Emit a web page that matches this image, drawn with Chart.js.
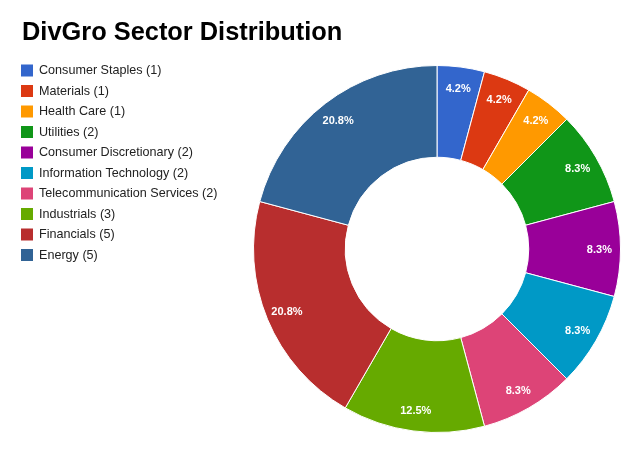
<!DOCTYPE html>
<html>
<head>
<meta charset="utf-8">
<script src="https://cdn.jsdelivr.net/npm/chart.js@4"></script>
<style>
  body { margin: 0; background: #fff; }
  canvas { display: block; }
</style>
</head>
<body>
<canvas id="sectorChart" width="640" height="451"></canvas>
<script>
var chartTitle = 'DivGro Sector Distribution';
var sectors = ['Consumer Staples', 'Materials', 'Health Care', 'Utilities', 'Consumer Discretionary',
    'Information Technology', 'Telecommunication Services', 'Industrials', 'Financials', 'Energy'];
var holdings = [1, 1, 1, 2, 2, 2, 2, 3, 5, 5];
var sectorColors = ['#3366cc', '#dc3912', '#ff9900', '#109618', '#990099',
    '#0099c6', '#dd4477', '#66aa00', '#b82e2e', '#316395'];

var total = holdings.reduce(function(a, b) { return a + b; }, 0);

// title + legend drawn on the canvas, left side
var sideLegend = {
    id: 'sideLegend',
    afterDraw: function(chart) {
        var ctx = chart.ctx;
        ctx.save();
        ctx.fillStyle = '#000';
        ctx.font = 'bold 25.4px "Liberation Sans", Arial, sans-serif';
        ctx.textBaseline = 'alphabetic';
        ctx.textAlign = 'left';
        ctx.fillText(chartTitle, 22, 40);

        ctx.font = '12.6px "Liberation Sans", Arial, sans-serif';
        ctx.textBaseline = 'middle';
        sectors.forEach(function(name, i) {
            var y = 70.5 + i * 20.5;
            ctx.fillStyle = sectorColors[i];
            ctx.fillRect(21, y - 6, 12, 12);
            ctx.fillStyle = '#222';
            ctx.fillText(name + ' (' + holdings[i] + ')', 39, y + 0.5);
        });
        ctx.restore();
    }
};

// percentage labels near the outer edge of each slice
var sliceLabels = {
    id: 'sliceLabels',
    afterDatasetsDraw: function(chart) {
        var ctx = chart.ctx;
        var meta = chart.getDatasetMeta(0);
        ctx.save();
        ctx.fillStyle = '#fff';
        ctx.font = 'bold 11px "Liberation Sans", Arial, sans-serif';
        ctx.textAlign = 'center';
        ctx.textBaseline = 'middle';
        meta.data.forEach(function(arc, i) {
            var p = arc.getProps(['x', 'y', 'startAngle', 'endAngle', 'outerRadius'], true);
            var mid = (p.startAngle + p.endAngle) / 2;
            var r = p.outerRadius * 0.885;
            var text = (holdings[i] / total * 100).toFixed(1) + '%';
            ctx.fillText(text, p.x + Math.cos(mid) * r, p.y + Math.sin(mid) * r + 1);
        });
        ctx.restore();
    }
};

new Chart(document.getElementById('sectorChart'), {
    type: 'doughnut',
    data: {
        labels: sectors,
        datasets: [{
            data: holdings,
            backgroundColor: sectorColors,
            borderColor: '#fff',
            borderWidth: 1
        }]
    },
    options: {
        responsive: false,
        animation: false,
        cutout: '50%',
        layout: { padding: { left: 253, right: 19, top: 65, bottom: 18 } },
        plugins: {
            legend: { display: false },
            title: { display: false },
            tooltip: { enabled: false }
        }
    },
    plugins: [sideLegend, sliceLabels]
});
</script>
</body>
</html>
